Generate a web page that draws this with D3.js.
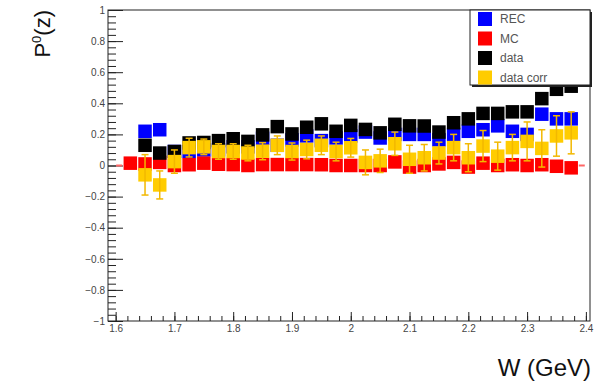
<!DOCTYPE html>
<html>
<head>
<meta charset="utf-8">
<script src="https://cdn.jsdelivr.net/npm/d3@7"></script>
<style>
  body { margin: 0; background: #fff; }
  svg { display: block; font-family: "Liberation Sans", Arial, sans-serif; }
</style>
</head>
<body>
<div id="chart"></div>
<script>
// bin centres (W in GeV)
var wBins = [1.625, 1.65, 1.675, 1.7, 1.725, 1.75, 1.775, 1.8, 1.825, 1.85, 1.875,
             1.9, 1.925, 1.95, 1.975, 2.0, 2.025, 2.05, 2.075, 2.1, 2.125,
             2.15, 2.175, 2.2, 2.225, 2.25, 2.275, 2.3, 2.325, 2.35, 2.375];

var recVals = [null, 0.22, 0.23, 0.09, 0.09, 0.10, 0.10, 0.12, 0.12, 0.175, 0.13,
               0.165, 0.19, 0.16, 0.177, 0.19, 0.215, 0.177, 0.20, 0.20, 0.20,
               0.165, 0.20, 0.22, 0.23, 0.255, 0.22, 0.20, 0.33, 0.30, 0.30];

var mcVals = [0.015, 0.01, 0.02, 0.0, 0.005, 0.015, 0.008, 0.006, 0.0, 0.006, 0.006,
              0.006, 0.006, 0.005, 0.0, 0.0, 0.0, 0.0, 0.023, -0.01, 0.0,
              0.01, 0.02, -0.01, 0.015, 0.0, 0.005, 0.0, 0.005, -0.005, -0.015];

var dataVals = [null, 0.13, 0.08, 0.09, 0.145, 0.148, 0.16, 0.172, 0.155, 0.197, 0.25,
                0.203, 0.246, 0.268, 0.22, 0.258, 0.232, 0.21, 0.265, 0.255, 0.254,
                0.215, 0.275, 0.30, 0.335, 0.335, 0.345, 0.345, 0.43, 0.49, 0.51];

var corrVals = [null, -0.06, -0.125, 0.025, 0.115, 0.12, 0.09, 0.09, 0.08, 0.092, 0.13,
                0.09, 0.103, 0.13, 0.09, 0.114, 0.02, 0.03, 0.14, 0.04, 0.05,
                0.08, 0.115, 0.05, 0.125, 0.06, 0.115, 0.155, 0.11, 0.19, 0.21];

var corrErrs = [null, 0.13, 0.09, 0.075, 0.06, 0.05, 0.05, 0.05, 0.05, 0.055, 0.06,
                0.055, 0.06, 0.06, 0.06, 0.06, 0.08, 0.075, 0.075, 0.09, 0.085,
                0.07, 0.085, 0.09, 0.10, 0.09, 0.085, 0.125, 0.12, 0.13, 0.135];

// tiny MC stubs at the edges of the range
var mcEdgeW = [1.606, 2.393];

var xTicks = [1.6, 1.7, 1.8, 1.9, 2.0, 2.1, 2.2, 2.3, 2.4];
var yTicks = [-1, -0.8, -0.6, -0.4, -0.2, 0, 0.2, 0.4, 0.6, 0.8, 1];

var legendNames = ["REC", "MC", "data", "data corr"];
var colors = {REC: "#0000ff", MC: "#ff0000", data: "#000000", "data corr": "#ffcc00"};

var W = 595, H = 381;
var frame = {left: 108, right: 590, top: 10, bottom: 321};
var ms = 13.5; // marker size

var svg = d3.select("#chart").append("svg")
  .attr("width", W).attr("height", H);

var x = d3.scaleLinear().domain([1.587, 2.407]).range([frame.left, frame.right]);
var y = d3.scaleLinear().domain([-1, 1]).range([frame.bottom, frame.top]);

// frame
svg.append("rect")
  .attr("x", frame.left).attr("y", frame.top)
  .attr("width", frame.right - frame.left).attr("height", frame.bottom - frame.top)
  .attr("fill", "none").attr("stroke", "#222").attr("stroke-width", 1);

// x axis (ticks point up into the frame)
var xMinor = d3.range(1.6, 2.4001, 0.02);
svg.append("g").attr("transform", "translate(0," + frame.bottom + ")")
  .call(d3.axisTop(x).tickValues(xMinor).tickSize(5).tickFormat(""))
  .call(g => g.select(".domain").remove())
  .call(g => g.selectAll("line").attr("stroke", "#222"));
var xAxis = svg.append("g").attr("transform", "translate(0," + frame.bottom + ")")
  .call(d3.axisTop(x).tickValues(xTicks).tickSize(9).tickFormat(d3.format("")))
  .call(g => g.select(".domain").remove());
xAxis.selectAll("line").attr("stroke", "#222");
xAxis.selectAll("text").attr("y", 11).attr("dy", 0)
  .attr("font-size", 10).attr("fill", "#444")
  .attr("font-family", "Liberation Sans, Arial, sans-serif");

// y axis (ticks point right into the frame)
var yMinor = d3.range(-1, 1.0001, 0.04);
svg.append("g").attr("transform", "translate(" + frame.left + ",0)")
  .call(d3.axisRight(y).tickValues(yMinor).tickSize(8).tickFormat(""))
  .call(g => g.select(".domain").remove())
  .call(g => g.selectAll("line").attr("stroke", "#222"));
var yAxis = svg.append("g").attr("transform", "translate(" + frame.left + ",0)")
  .call(d3.axisRight(y).tickValues(yTicks).tickSize(15).tickFormat(d3.format("")))
  .call(g => g.select(".domain").remove());
yAxis.selectAll("line").attr("stroke", "#222");
yAxis.selectAll("text").attr("x", -3).attr("text-anchor", "end")
  .attr("font-size", 10).attr("fill", "#444")
  .attr("font-family", "Liberation Sans, Arial, sans-serif")
  .text(d => d < 0 ? "\u2212" + Math.abs(d) : d);

// markers
var plot = svg.append("g");

function drawSquares(vals, color) {
  var pts = wBins.map((w, i) => ({w: w, v: vals[i]})).filter(d => d.v !== null);
  plot.append("g").selectAll("rect")
    .data(pts)
    .join("rect")
    .attr("x", d => x(d.w) - ms / 2)
    .attr("y", d => y(d.v) - ms / 2)
    .attr("width", ms).attr("height", ms)
    .attr("fill", color);
}

drawSquares(recVals, colors.REC);

// MC edge stubs
plot.append("g").selectAll("line")
  .data(mcEdgeW)
  .join("line")
  .attr("x1", d => x(d) - 3).attr("x2", d => x(d) + 3)
  .attr("y1", y(0)).attr("y2", y(0))
  .attr("stroke", "#ff6666").attr("stroke-width", 2);

drawSquares(mcVals, colors.MC);
drawSquares(dataVals, colors.data);
drawSquares(corrVals, colors["data corr"]);

// data corr error bars
var corrPts = wBins.map((w, i) => ({w: w, v: corrVals[i], e: corrErrs[i]})).filter(d => d.v !== null);
var eb = plot.append("g").attr("stroke", "#f2b800").attr("stroke-width", 1.5);
eb.selectAll("line.v").data(corrPts).join("line").attr("class", "v")
  .attr("x1", d => x(d.w)).attr("x2", d => x(d.w))
  .attr("y1", d => y(d.v + d.e)).attr("y2", d => y(d.v - d.e));
eb.selectAll("line.t").data(corrPts).join("line").attr("class", "t")
  .attr("x1", d => x(d.w) - 3.5).attr("x2", d => x(d.w) + 3.5)
  .attr("y1", d => y(d.v + d.e)).attr("y2", d => y(d.v + d.e));
eb.selectAll("line.b").data(corrPts).join("line").attr("class", "b")
  .attr("x1", d => x(d.w) - 3.5).attr("x2", d => x(d.w) + 3.5)
  .attr("y1", d => y(d.v - d.e)).attr("y2", d => y(d.v - d.e));

// legend
var lg = {x: 470, y: 10, w: 120, h: 75};
svg.append("rect")
  .attr("x", lg.x + 2).attr("y", lg.y + 2).attr("width", lg.w).attr("height", lg.h)
  .attr("fill", "#222");
svg.append("rect")
  .attr("x", lg.x).attr("y", lg.y).attr("width", lg.w).attr("height", lg.h)
  .attr("fill", "#fff").attr("stroke", "#222").attr("stroke-width", 1);
var entries = svg.append("g").selectAll("g")
  .data(legendNames)
  .join("g")
  .attr("transform", (d, i) => "translate(" + (lg.x + 15) + "," + (lg.y + 9 + i * 19.5) + ")");
entries.append("rect")
  .attr("x", -7).attr("y", -7).attr("width", 14).attr("height", 14)
  .attr("fill", d => colors[d]);
entries.append("text")
  .attr("x", 15).attr("y", 4)
  .attr("font-size", 12).attr("fill", "#555")
  .text(d => d);

// axis titles
var yTitle = svg.append("text")
  .attr("transform", "translate(50," + frame.top + ") rotate(-90)")
  .attr("text-anchor", "end")
  .attr("font-size", 22).attr("fill", "#111");
yTitle.append("tspan").text("P");
yTitle.append("tspan").attr("font-size", 13).attr("dy", -9).text("0");
yTitle.append("tspan").attr("dy", 9).text("(z)");

svg.append("text")
  .attr("x", 591).attr("y", 376)
  .attr("text-anchor", "end")
  .attr("font-size", 24).attr("fill", "#111")
  .text("W (GeV)");
</script>
</body>
</html>
